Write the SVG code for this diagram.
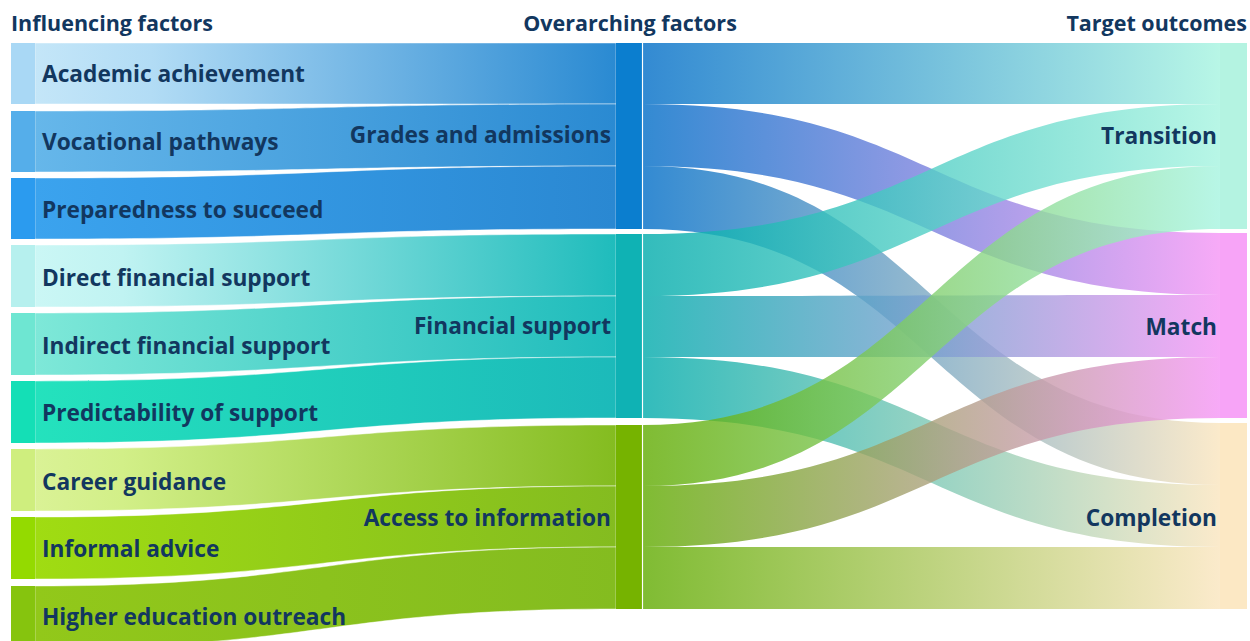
<svg xmlns="http://www.w3.org/2000/svg" width="1250" height="641" viewBox="0 0 1250 641">
  <style>
    .hdr { font-family: "Open Sans", "Liberation Sans", sans-serif; font-weight: 700; font-size: 21.5px; fill: #12375f; }
    .lbl { font-family: "Open Sans", "Liberation Sans", sans-serif; font-weight: 700; font-size: 22.7px; fill: #12375f; }
    .end { text-anchor: end; }
    .seam { stroke: #ffffff; stroke-opacity: 0.45; stroke-width: 1; }
    .out { fill-opacity: 0.8; }
  </style>
  <defs>
    <!-- influencing factor bands: light source tint to overarching colour -->
    <linearGradient id="gL1" gradientUnits="userSpaceOnUse" x1="35" y1="0" x2="616" y2="0"><stop offset="0" stop-color="#c4e6f8"/><stop offset="0.2" stop-color="#b2dcf5"/><stop offset="1" stop-color="#2a8ad2"/></linearGradient>
    <linearGradient id="gL2" gradientUnits="userSpaceOnUse" x1="35" y1="0" x2="616" y2="0"><stop offset="0" stop-color="#66b7ea"/><stop offset="1" stop-color="#2a8ad2"/></linearGradient>
    <linearGradient id="gL3" gradientUnits="userSpaceOnUse" x1="35" y1="0" x2="616" y2="0"><stop offset="0" stop-color="#3ba3ee"/><stop offset="1" stop-color="#2a88d2"/></linearGradient>
    <linearGradient id="gL4" gradientUnits="userSpaceOnUse" x1="35" y1="0" x2="616" y2="0"><stop offset="0" stop-color="#cbf7f5"/><stop offset="0.15" stop-color="#c0f3f2"/><stop offset="1" stop-color="#1fbcbc"/></linearGradient>
    <linearGradient id="gL5" gradientUnits="userSpaceOnUse" x1="35" y1="0" x2="616" y2="0"><stop offset="0" stop-color="#7ee8d8"/><stop offset="1" stop-color="#1fbcbc"/></linearGradient>
    <linearGradient id="gL6" gradientUnits="userSpaceOnUse" x1="35" y1="0" x2="616" y2="0"><stop offset="0" stop-color="#24e2bd"/><stop offset="1" stop-color="#1cbaba"/></linearGradient>
    <linearGradient id="gL7" gradientUnits="userSpaceOnUse" x1="35" y1="0" x2="616" y2="0"><stop offset="0" stop-color="#daf296"/><stop offset="0.15" stop-color="#d2ef88"/><stop offset="1" stop-color="#84bc20"/></linearGradient>
    <linearGradient id="gL8" gradientUnits="userSpaceOnUse" x1="35" y1="0" x2="616" y2="0"><stop offset="0" stop-color="#a0dc12"/><stop offset="1" stop-color="#84bc20"/></linearGradient>
    <linearGradient id="gL9" gradientUnits="userSpaceOnUse" x1="35" y1="0" x2="616" y2="0"><stop offset="0" stop-color="#92c81a"/><stop offset="1" stop-color="#84bc20"/></linearGradient>
    <!-- overarching to outcome bands -->
    <linearGradient id="gGT" gradientUnits="userSpaceOnUse" x1="643" y1="0" x2="1220" y2="0"><stop offset="0" stop-color="#006dc7"/><stop offset="1" stop-color="#a6f4e0"/></linearGradient>
    <linearGradient id="gGM" gradientUnits="userSpaceOnUse" x1="643" y1="0" x2="1220" y2="0"><stop offset="0" stop-color="#006dc7"/><stop offset="1" stop-color="#f595f5"/></linearGradient>
    <linearGradient id="gGC" gradientUnits="userSpaceOnUse" x1="643" y1="0" x2="1220" y2="0"><stop offset="0" stop-color="#006dc7"/><stop offset="1" stop-color="#fae5be"/></linearGradient>
    <linearGradient id="gFT" gradientUnits="userSpaceOnUse" x1="643" y1="0" x2="1220" y2="0"><stop offset="0" stop-color="#00abab"/><stop offset="1" stop-color="#a6f4e0"/></linearGradient>
    <linearGradient id="gFM" gradientUnits="userSpaceOnUse" x1="643" y1="0" x2="1220" y2="0"><stop offset="0" stop-color="#00abab"/><stop offset="1" stop-color="#f595f5"/></linearGradient>
    <linearGradient id="gFC" gradientUnits="userSpaceOnUse" x1="643" y1="0" x2="1220" y2="0"><stop offset="0" stop-color="#00abab"/><stop offset="1" stop-color="#fae5be"/></linearGradient>
    <linearGradient id="gAT" gradientUnits="userSpaceOnUse" x1="643" y1="0" x2="1220" y2="0"><stop offset="0" stop-color="#60ab00"/><stop offset="1" stop-color="#a6f4e0"/></linearGradient>
    <linearGradient id="gAM" gradientUnits="userSpaceOnUse" x1="643" y1="0" x2="1220" y2="0"><stop offset="0" stop-color="#60ab00"/><stop offset="1" stop-color="#f595f5"/></linearGradient>
    <linearGradient id="gAC" gradientUnits="userSpaceOnUse" x1="643" y1="0" x2="1220" y2="0"><stop offset="0" stop-color="#60ab00"/><stop offset="1" stop-color="#fae5be"/></linearGradient>
  </defs>

  <rect width="1250" height="641" fill="#ffffff"/>

  <!-- connectors -->
  <g id="connectors">
    <g id="flows-left" class="seam">
      <path fill="url(#gL1)" d="M35,43 C325,43 325,43 616,43 L616,104 C325,104 325,104 35,104 Z"/>
      <path fill="url(#gL2)" d="M35,111 C325,111 325,104 616,104 L616,166 C325,166 325,172 35,172 Z"/>
      <path fill="url(#gL3)" d="M35,178 C325,178 325,166 616,166 L616,229 C325,229 325,239 35,239 Z"/>
      <path fill="url(#gL4)" d="M35,245 C325,245 325,234 616,234 L616,296 C325,296 325,307 35,307 Z"/>
      <path fill="url(#gL5)" d="M35,313 C325,313 325,296 616,296 L616,357 C325,357 325,375 35,375 Z"/>
      <path fill="url(#gL6)" d="M35,381 C325,381 325,357 616,357 L616,418 C325,418 325,443 35,443 Z"/>
      <path fill="url(#gL7)" d="M35,449 C325,449 325,425 616,425 L616,486 C325,486 325,511 35,511 Z"/>
      <path fill="url(#gL8)" d="M35,517 C325,517 325,486 616,486 L616,547 C325,547 325,579 35,579 Z"/>
      <path fill="url(#gL9)" d="M35,586 C325,586 325,547 616,547 L616,609 C325,609 325,648 35,648 Z"/>
    </g>
    <g id="flows-right" class="out">
      <path fill="url(#gGT)" d="M643,43 C931,43 931,43 1220,43 L1220,104 C931,104 931,104 643,104 Z"/>
      <path fill="url(#gGM)" d="M643,104 C931,104 931,233 1220,233 L1220,295 C931,295 931,166 643,166 Z"/>
      <path fill="url(#gGC)" d="M643,166 C931,166 931,423 1220,423 L1220,485 C931,485 931,229 643,229 Z"/>
      <path fill="url(#gFT)" d="M643,234 C931,234 931,104 1220,104 L1220,166 C931,166 931,296 643,296 Z"/>
      <path fill="url(#gFM)" d="M643,296 C931,296 931,295 1220,295 L1220,357 C931,357 931,357 643,357 Z"/>
      <path fill="url(#gFC)" d="M643,357 C931,357 931,485 1220,485 L1220,547 C931,547 931,418 643,418 Z"/>
      <path fill="url(#gAT)" d="M643,425 C931,425 931,166 1220,166 L1220,229 C931,229 931,486 643,486 Z"/>
      <path fill="url(#gAM)" d="M643,486 C931,486 931,357 1220,357 L1220,418 C931,418 931,547 643,547 Z"/>
      <path fill="url(#gAC)" d="M643,547 C931,547 931,547 1220,547 L1220,609 C931,609 931,609 643,609 Z"/>
    </g>
  </g>

  <!-- column headings -->
  <text class="hdr" x="11" y="31">Influencing factors</text>
  <text class="hdr" x="630" y="31" text-anchor="middle">Overarching factors</text>
  <text class="hdr end" x="1247" y="31">Target outcomes</text>

  <!-- influencing factors -->
  <g id="academic"><rect x="11" y="43" width="24" height="61" fill="#a9d8f5"/><text class="lbl" x="42" y="82">Academic achievement</text></g>
  <g id="vocational"><rect x="11" y="111" width="24" height="61" fill="#55aeea"/><text class="lbl" x="42" y="150">Vocational pathways</text></g>
  <g id="preparedness"><rect x="11" y="178" width="24" height="61" fill="#2b9bef"/><text class="lbl" x="42" y="218">Preparedness to succeed</text></g>
  <g id="direct-support"><rect x="11" y="245" width="24" height="62" fill="#b6f0ee"/><text class="lbl" x="42" y="286">Direct financial support</text></g>
  <g id="indirect-support"><rect x="11" y="313" width="24" height="62" fill="#6ee6d2"/><text class="lbl" x="42" y="354">Indirect financial support</text></g>
  <g id="predictability"><rect x="11" y="381" width="24" height="62" fill="#14dfb6"/><text class="lbl" x="42" y="421">Predictability of support</text></g>
  <g id="career-guidance"><rect x="11" y="449" width="24" height="62" fill="#cfee7e"/><text class="lbl" x="42" y="490">Career guidance</text></g>
  <g id="informal-advice"><rect x="11" y="517" width="24" height="62" fill="#94da00"/><text class="lbl" x="42" y="557">Informal advice</text></g>
  <g id="outreach"><rect x="11" y="586" width="24" height="62" fill="#86c40e"/><text class="lbl" x="42" y="625">Higher education outreach</text></g>

  <!-- overarching factors -->
  <g id="grades"><rect x="616" y="43" width="26" height="186" fill="#0b7ecf"/><text class="lbl end" x="611" y="143">Grades and admissions</text></g>
  <g id="financial"><rect x="616" y="234" width="26" height="184" fill="#0fb2b4"/><text class="lbl end" x="611" y="334">Financial support</text></g>
  <g id="information"><rect x="616" y="425" width="26" height="184" fill="#76b300"/><text class="lbl end" x="611" y="526">Access to information</text></g>
  <line x1="642.5" y1="43" x2="642.5" y2="609" stroke="#ffffff" stroke-width="1.2" stroke-opacity="0.8"/>

  <!-- target outcomes -->
  <g id="transition"><rect x="1220" y="43" width="27" height="186" fill="#b4f3e1"/><text class="lbl end" x="1217" y="144">Transition</text></g>
  <g id="match"><rect x="1220" y="233" width="27" height="185" fill="#f7a4f7"/><text class="lbl end" x="1217" y="335">Match</text></g>
  <g id="completion"><rect x="1220" y="423" width="27" height="186" fill="#fce8c4"/><text class="lbl end" x="1217" y="526">Completion</text></g>
</svg>
